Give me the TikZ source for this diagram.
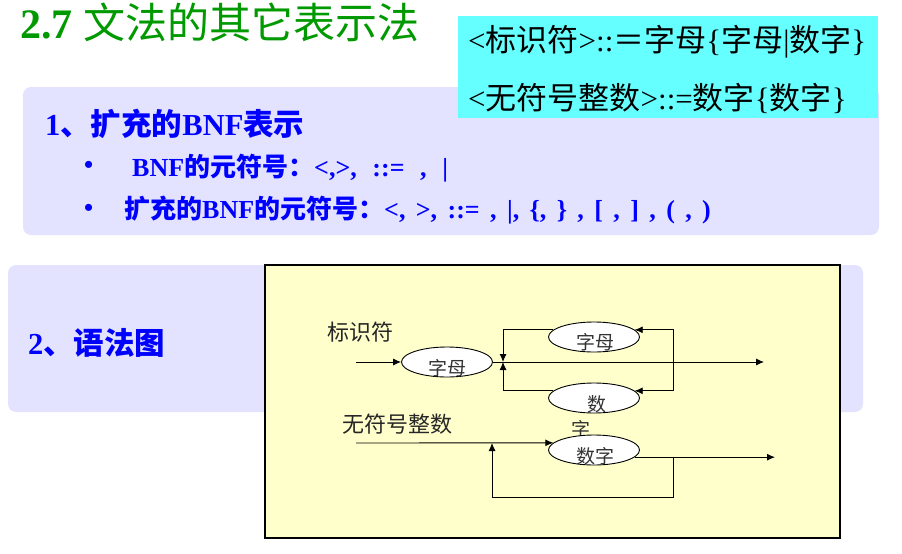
\documentclass[tikz,border=0pt]{standalone}
\usepackage{fontspec}
\setmainfont{Liberation Serif}
\newfontfamily\cjk{Noto Sans CJK SC}
\usetikzlibrary{shapes.geometric,arrows.meta}

\definecolor{titlegreen}{RGB}{0,153,0}
\definecolor{bnfcyan}{RGB}{102,255,255}
\definecolor{panelblue}{RGB}{227,227,255}
\definecolor{chartyellow}{RGB}{255,255,204}
\newcommand\widesp[1]{\spaceskip=#1em\relax}

\tikzset{
	panel/.style={fill=panelblue, rounded corners=8pt},
	heading/.style={anchor=west, inner sep=0pt, text=blue, font=\fontsize{30.5}{30.5}\selectfont\bfseries},
	bullet/.style={anchor=west, inner sep=0pt, text=blue, font=\fontsize{26}{26}\selectfont\bfseries\widesp{0.4}},
	rule/.style={anchor=west, inner sep=0pt, font=\fontsize{31}{31}\selectfont},
	chartname/.style={anchor=west, inner sep=0pt, text=black!85, font=\cjk\fontsize{22}{22}\selectfont},
	oval/.style={draw, ellipse, fill=white, minimum width=91pt, minimum height=30pt, inner sep=0pt, line width=0.9pt},
	ovaltext/.style={inner sep=0pt, text=black!80, font=\cjk\fontsize{19}{19}\selectfont},
	wire/.style={line width=0.9pt},
	flow/.style={wire, -{Latex[length=8pt,width=7pt]}},
}

\begin{document}
\begin{tikzpicture}[x=1pt,y=-1pt]
	\useasboundingbox (0,0) rectangle (902,554);

	%panels
	\fill[panel] (23,87) rectangle (879,235);		%BNF panel
	\fill[panel] (8,265) rectangle (863,412);		%syntax chart panel
	\fill[bnfcyan] (458,16) rectangle (878,118);	%rules box

	%title
	\node[anchor=west, inner sep=0pt, text=titlegreen, font=\fontsize{42}{42}\selectfont] (title) at (20,22)
		{\bfseries 2.7 {\cjk\mdseries 文法的其它表示法}};

	%rules
	\node[rule] (ruleid) at (468,42) {<{\cjk 标识符}>::{\cjk ＝字母}\{{\cjk 字母}|{\cjk 数字}\}};
	\node[rule] (ruleint) at (468,98) {<{\cjk 无符号整数}>::={\cjk 数字}\{{\cjk 数字}\}};

	%part 1
	\node[heading] (ebnf) at (45,124) {1{\cjk 、扩充的}BNF{\cjk 表示}};
		\node[bullet] (dot1) at (84,167) {•};
		\node[bullet] (meta) at (132,168) {\widesp{0.6}BNF{\cjk 的元符号：}<,>, ::= , |};
		\node[bullet] (dot2) at (84,210) {•};
		\node[bullet] (metaext) at (124,210) {{\cjk 扩充的}BNF{\cjk 的元符号：}<, >, ::= , |, \{, \} , [ , ] , ( , )};
	\node[heading] (chart) at (28,343) {2{\cjk 、语法图}};

	%chart frame
	\draw[fill=chartyellow, line width=1.2pt] (265,265) rectangle (840,538);

	%identifier chart
	\node[chartname] (idname) at (327,332) {标识符};
	\coordinate (idin) at (356,362);
	\coordinate (j1) at (503,362);		%junction
	\coordinate (rc) at (673,362);		%right turn
	\coordinate (idout) at (764,362);
	\node[oval] (l1) at (447,362) {};
	\node[oval] (l2) at (594,337) {};
	\node[oval] (d1) at (594,398) {};
		\node[ovaltext] at (447,368) {字母};
		\node[ovaltext] at (595,342) {字母};
		\node[ovaltext] at (597,404) {数};
		\node[ovaltext] at (581,429) {字};
	\draw[flow] (idin) -- (l1);
	\draw[flow] (l1) -- (idout);
	\draw[flow] (l2.170) -| (j1);		%upper loop
	\draw[flow] (d1.170) -| (j1);		%lower loop
	\draw[flow] (rc) |- (l2.10);
	\draw[flow] (rc) |- (d1.10);

	%unsigned integer chart
	\node[chartname] (intname) at (342,424) {无符号整数};
	\node[oval] (d2) at (594,450) {};
		\node[ovaltext] at (595,456) {数字};
	\coordinate (uin) at (356,443);
	\coordinate (ujoin) at (492,443);
	\coordinate (uout) at (775,457);
	\coordinate (uturn) at (673,457);
	\coordinate (ubot) at (673,497);
	\draw[flow] (uin) -- (d2.170);
	\draw[flow] (d2.-10) -- (d2.-10 -| uout);
	\draw[flow] (uturn) -- (ubot) -| (ujoin);	%back loop
\end{tikzpicture}
\end{document}
